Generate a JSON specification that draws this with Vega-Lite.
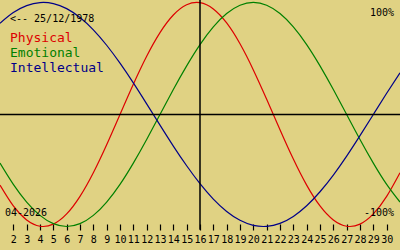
{
  "$schema": "https://vega.github.io/schema/vega-lite/v6.json",
  "width": 400,
  "height": 250,
  "autosize": "none",
  "padding": 0,
  "background": "#e0d283",
  "config": {"view": {"stroke": null}, "font": "DejaVu Sans Mono"},
  "datasets": {
    "bio": [
      {"day": 1, "Physical": -0.631, "Emotional": -0.434, "Intellectual": 0.815},
      {"day": 2, "Physical": -0.817, "Emotional": -0.624, "Intellectual": 0.910},
      {"day": 3, "Physical": -0.942, "Emotional": -0.782, "Intellectual": 0.972},
      {"day": 4, "Physical": -0.998, "Emotional": -0.901, "Intellectual": 0.999},
      {"day": 5, "Physical": -0.979, "Emotional": -0.975, "Intellectual": 0.990},
      {"day": 6, "Physical": -0.888, "Emotional": -1.0, "Intellectual": 0.945},
      {"day": 7, "Physical": -0.731, "Emotional": -0.975, "Intellectual": 0.866},
      {"day": 8, "Physical": -0.520, "Emotional": -0.901, "Intellectual": 0.756},
      {"day": 9, "Physical": -0.270, "Emotional": -0.782, "Intellectual": 0.618},
      {"day": 10, "Physical": 0.0, "Emotional": -0.624, "Intellectual": 0.458},
      {"day": 11, "Physical": 0.270, "Emotional": -0.434, "Intellectual": 0.282},
      {"day": 12, "Physical": 0.520, "Emotional": -0.223, "Intellectual": 0.095},
      {"day": 13, "Physical": 0.731, "Emotional": 0.0, "Intellectual": -0.095},
      {"day": 14, "Physical": 0.888, "Emotional": 0.223, "Intellectual": -0.282},
      {"day": 15, "Physical": 0.979, "Emotional": 0.434, "Intellectual": -0.458},
      {"day": 16, "Physical": 0.998, "Emotional": 0.624, "Intellectual": -0.618},
      {"day": 17, "Physical": 0.942, "Emotional": 0.782, "Intellectual": -0.756},
      {"day": 18, "Physical": 0.817, "Emotional": 0.901, "Intellectual": -0.866},
      {"day": 19, "Physical": 0.631, "Emotional": 0.975, "Intellectual": -0.945},
      {"day": 20, "Physical": 0.398, "Emotional": 1.0, "Intellectual": -0.990},
      {"day": 21, "Physical": 0.136, "Emotional": 0.975, "Intellectual": -0.999},
      {"day": 22, "Physical": -0.136, "Emotional": 0.901, "Intellectual": -0.972},
      {"day": 23, "Physical": -0.398, "Emotional": 0.782, "Intellectual": -0.910},
      {"day": 24, "Physical": -0.631, "Emotional": 0.624, "Intellectual": -0.815},
      {"day": 25, "Physical": -0.817, "Emotional": 0.434, "Intellectual": -0.690},
      {"day": 26, "Physical": -0.942, "Emotional": 0.223, "Intellectual": -0.541},
      {"day": 27, "Physical": -0.998, "Emotional": 0.0, "Intellectual": -0.372},
      {"day": 28, "Physical": -0.979, "Emotional": -0.223, "Intellectual": -0.189},
      {"day": 29, "Physical": -0.888, "Emotional": -0.434, "Intellectual": 0.0},
      {"day": 30, "Physical": -0.731, "Emotional": -0.624, "Intellectual": 0.189},
      {"day": 31, "Physical": -0.520, "Emotional": -0.782, "Intellectual": 0.372}
    ]
  },
  "layer": [
    {
      "data": {"name": "bio"},
      "transform": [{"fold": ["Physical", "Emotional", "Intellectual"], "as": ["series", "value"]}],
      "mark": {"type": "line", "interpolate": "natural", "strokeWidth": 1.2},
      "encoding": {
        "x": {
          "field": "day", "type": "quantitative", "title": null,
          "scale": {"domain": [1, 31], "nice": false, "zero": false},
          "axis": {
            "values": [2,3,4,5,6,7,8,9,10,11,12,13,14,15,16,17,18,19,20,21,22,23,24,25,26,27,28,29,30],
            "domain": false, "grid": false, "offset": -26, "tickSize": 6,
            "tickColor": "black", "tickWidth": 1.2,
            "labelFont": "DejaVu Sans Mono", "labelFontSize": 10, "labelColor": "black",
            "labelPadding": 4, "title": null, "labelFlush": false, "labelOverlap": false
          }
        },
        "y": {
          "field": "value", "type": "quantitative",
          "scale": {"domain": [-1.21, 1.022], "nice": false, "zero": false},
          "axis": null
        },
        "color": {
          "field": "series", "type": "nominal",
          "scale": {"domain": ["Physical", "Emotional", "Intellectual"], "range": ["#dd0000", "#008000", "#000088"]},
          "legend": {
            "orient": "none", "legendX": -3, "legendY": 31, "title": null,
            "symbolSize": 0, "symbolOpacity": 0, "symbolStrokeWidth": 0, "symbolType": "circle",
            "labelOffset": 0, "rowPadding": 1, "padding": 0,
            "labelFont": "DejaVu Sans Mono", "labelFontSize": 13,
            "encode": {"labels": {"update": {"fill": {"scale": "color", "field": "value"}}}}
          }
        }
      }
    },
    {
      "data": {"values": [{}]},
      "mark": {"type": "rule", "color": "black", "strokeWidth": 1.5},
      "encoding": {"y": {"datum": 0, "type": "quantitative", "axis": null}}
    },
    {
      "data": {"values": [{}]},
      "mark": {"type": "rule", "color": "black", "strokeWidth": 1.5},
      "encoding": {
        "x": {"datum": 16, "type": "quantitative", "title": null,
          "axis": {
            "values": [2,3,4,5,6,7,8,9,10,11,12,13,14,15,16,17,18,19,20,21,22,23,24,25,26,27,28,29,30],
            "domain": false, "grid": false, "offset": -26, "tickSize": 6,
            "tickColor": "black", "tickWidth": 1.2,
            "labelFont": "DejaVu Sans Mono", "labelFontSize": 10, "labelColor": "black",
            "labelPadding": 4, "title": null, "labelFlush": false, "labelOverlap": false
          }},
        "y": {"datum": 1.1, "type": "quantitative", "axis": null},
        "y2": {"datum": -1.03}
      }
    },
    {
      "data": {"values": [{"label": "<-- 25/12/1978"}]},
      "mark": {"type": "text", "align": "left", "baseline": "alphabetic", "fontSize": 10, "font": "DejaVu Sans Mono", "color": "black"},
      "encoding": {
        "x": {"datum": 1.75, "type": "quantitative", "title": null,
          "axis": {
            "values": [2,3,4,5,6,7,8,9,10,11,12,13,14,15,16,17,18,19,20,21,22,23,24,25,26,27,28,29,30],
            "domain": false, "grid": false, "offset": -26, "tickSize": 6,
            "tickColor": "black", "tickWidth": 1.2,
            "labelFont": "DejaVu Sans Mono", "labelFontSize": 10, "labelColor": "black",
            "labelPadding": 4, "title": null, "labelFlush": false, "labelOverlap": false
          }},
        "y": {"datum": 0.826, "type": "quantitative", "axis": null},
        "text": {"field": "label"}
      }
    },
    {
      "data": {"values": [{"label": "100%"}]},
      "mark": {"type": "text", "align": "right", "baseline": "alphabetic", "fontSize": 10, "font": "DejaVu Sans Mono", "color": "black"},
      "encoding": {
        "x": {"datum": 30.55, "type": "quantitative", "title": null,
          "axis": {
            "values": [2,3,4,5,6,7,8,9,10,11,12,13,14,15,16,17,18,19,20,21,22,23,24,25,26,27,28,29,30],
            "domain": false, "grid": false, "offset": -26, "tickSize": 6,
            "tickColor": "black", "tickWidth": 1.2,
            "labelFont": "DejaVu Sans Mono", "labelFontSize": 10, "labelColor": "black",
            "labelPadding": 4, "title": null, "labelFlush": false, "labelOverlap": false
          }},
        "y": {"datum": 0.879, "type": "quantitative", "axis": null},
        "text": {"field": "label"}
      }
    },
    {
      "data": {"values": [{"label": "-100%"}]},
      "mark": {"type": "text", "align": "right", "baseline": "alphabetic", "fontSize": 10, "font": "DejaVu Sans Mono", "color": "black"},
      "encoding": {
        "x": {"datum": 30.55, "type": "quantitative", "title": null,
          "axis": {
            "values": [2,3,4,5,6,7,8,9,10,11,12,13,14,15,16,17,18,19,20,21,22,23,24,25,26,27,28,29,30],
            "domain": false, "grid": false, "offset": -26, "tickSize": 6,
            "tickColor": "black", "tickWidth": 1.2,
            "labelFont": "DejaVu Sans Mono", "labelFontSize": 10, "labelColor": "black",
            "labelPadding": 4, "title": null, "labelFlush": false, "labelOverlap": false
          }},
        "y": {"datum": -0.906, "type": "quantitative", "axis": null},
        "text": {"field": "label"}
      }
    },
    {
      "data": {"values": [{"label": "04-2026"}]},
      "mark": {"type": "text", "align": "left", "baseline": "alphabetic", "fontSize": 10, "font": "DejaVu Sans Mono", "color": "black"},
      "encoding": {
        "x": {"datum": 1.375, "type": "quantitative", "title": null,
          "axis": {
            "values": [2,3,4,5,6,7,8,9,10,11,12,13,14,15,16,17,18,19,20,21,22,23,24,25,26,27,28,29,30],
            "domain": false, "grid": false, "offset": -26, "tickSize": 6,
            "tickColor": "black", "tickWidth": 1.2,
            "labelFont": "DejaVu Sans Mono", "labelFontSize": 10, "labelColor": "black",
            "labelPadding": 4, "title": null, "labelFlush": false, "labelOverlap": false
          }},
        "y": {"datum": -0.906, "type": "quantitative", "axis": null},
        "text": {"field": "label"}
      }
    }
  ]
}
